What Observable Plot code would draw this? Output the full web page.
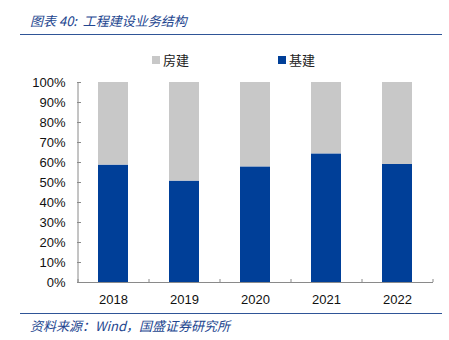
<!DOCTYPE html>
<html>
<head>
<meta charset="utf-8">
<script src="https://cdn.jsdelivr.net/npm/d3@7"></script>
<script src="https://cdn.jsdelivr.net/npm/@observablehq/plot@0.6"></script>
<style>
  html, body { margin: 0; padding: 0; background: #fff; }
  #wrap { position: relative; width: 449px; height: 340px; overflow: hidden; font-family: "Noto Sans CJK SC", sans-serif; }
  #wrap svg { position: absolute; left: 0; top: 0; }
  .title { position: absolute; left: 30px; top: 11px; font-size: 13px; font-style: italic; color: #23468f; white-space: pre; }
  .hr { position: absolute; left: 20px; width: 422px; height: 0; border-top: 1.5px solid #2f5597; }
  .legend { position: absolute; top: 50px; font-size: 13px; color: #222; white-space: nowrap; display: flex; align-items: center; }
  .legend i { display: inline-block; width: 8px; height: 8px; margin-right: 3px; }
  .source { position: absolute; left: 30px; top: 316px; font-size: 13px; font-style: italic; color: #23468f; white-space: pre; }
</style>
</head>
<body>
<div id="wrap"></div>
<script>
const titleText = "图表 40:  工程建设业务结构";
const sourceText = "资料来源：Wind，国盛证券研究所";
const years = ["2018", "2019", "2020", "2021", "2022"];
const seriesNames = ["基建", "房建"];
const seriesColors = ["#003f98", "#c8c8c8"];
const infraShare = [0.587, 0.507, 0.578, 0.643, 0.590];
const housingShare = [0.413, 0.493, 0.422, 0.357, 0.410];
const yTicks = [0, 0.1, 0.2, 0.3, 0.4, 0.5, 0.6, 0.7, 0.8, 0.9, 1.0];

const rows = [];
years.forEach((yr, i) => {
  rows.push({year: yr, series: seriesNames[0], value: infraShare[i]});
  rows.push({year: yr, series: seriesNames[1], value: housingShare[i]});
});

const axisColor = "#8a8a8a";
const font = "'Liberation Sans', Arial, sans-serif";

const chart = Plot.plot({
  width: 449,
  height: 340,
  marginTop: 82,
  marginBottom: 58,
  marginLeft: 77,
  marginRight: 16,
  style: {fontFamily: font, fontSize: "13px", color: "#111", background: "transparent"},
  x: {domain: years, paddingInner: 0.58, paddingOuter: 0.29, align: 0.5, label: null},
  y: {domain: [0, 1], label: null},
  color: {domain: seriesNames, range: seriesColors},
  marks: [
    Plot.barY(rows, {x: "year", y: "value", fill: "series", order: seriesNames}),
    Plot.axisY(yTicks, {anchor: "left", tickSize: 0, tickPadding: 12, tickFormat: d => Math.round(d * 100) + "%", label: null}),
    Plot.axisY(yTicks, {anchor: "left", tickSize: -4, tickFormat: () => "", stroke: axisColor, label: null}),
    Plot.axisX({anchor: "bottom", tickSize: 0, tickPadding: 12, label: null}),
    Plot.ruleX(years, {x: d => d, y1: 0, y2: 0.015, dx: -35.5, stroke: axisColor}),
    Plot.ruleX(years.slice(-1), {x: d => d, y1: 0, y2: 0.015, dx: 35.5, stroke: axisColor}),
    Plot.ruleY([0], {stroke: axisColor}),
    Plot.ruleX(years.slice(0, 1), {x: d => d, y1: 0, y2: 1, dx: -35.5, stroke: axisColor})
  ]
});

const wrap = document.getElementById("wrap");
wrap.appendChild(chart);

const t = document.createElement("div");
t.className = "title"; t.textContent = titleText; wrap.appendChild(t);

const hr1 = document.createElement("div");
hr1.className = "hr"; hr1.style.top = "34px"; wrap.appendChild(hr1);

const legendPos = [{name: seriesNames[1], color: seriesColors[1], left: 152}, {name: seriesNames[0], color: seriesColors[0], left: 278}];
legendPos.forEach(l => {
  const d = document.createElement("div");
  d.className = "legend"; d.style.left = l.left + "px";
  const sw = document.createElement("i"); sw.style.background = l.color;
  d.appendChild(sw);
  d.appendChild(document.createTextNode(l.name));
  wrap.appendChild(d);
});

const hr2 = document.createElement("div");
hr2.className = "hr"; hr2.style.top = "313px"; wrap.appendChild(hr2);

const s = document.createElement("div");
s.className = "source"; s.textContent = sourceText; wrap.appendChild(s);
</script>
</body>
</html>
